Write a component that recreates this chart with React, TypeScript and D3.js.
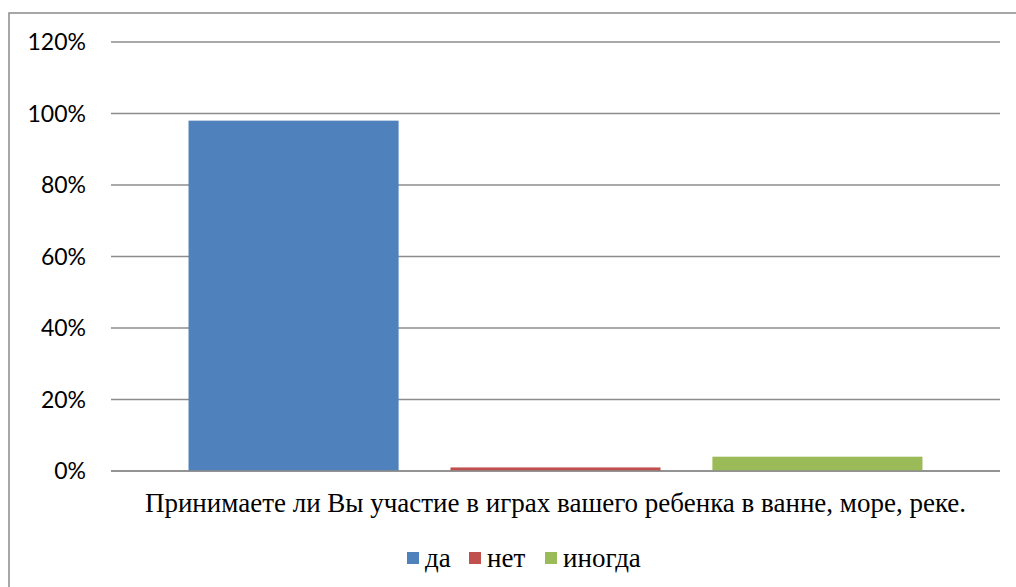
import * as d3 from "d3";

const CATEGORY = "Принимаете ли Вы участие в играх вашего ребенка в ванне, море, реке.";
const SERIES = ["да", "нет", "иногда"];
const VALUES = [0.98, 0.01, 0.04];
const COLORS = ["#4f81bd", "#c0504d", "#9bbb59"];
const TICKS = [0, 0.2, 0.4, 0.6, 0.8, 1.0, 1.2];

const W = 1016, H = 587;
const plot = { left: 111, right: 1000, top: 42, bottom: 471 };
const SERIF = "Liberation Serif, DejaVu Serif, serif";

export default function App() {
  const y = d3.scaleLinear().domain([0, 1.2]).range([plot.bottom, plot.top]);
  const x = d3.scaleBand<string>()
    .domain(SERIES)
    .range([plot.left, plot.right])
    .paddingInner(0.198)
    .paddingOuter(0.296);
  const fmt = d3.format(".0%");

  // legend positions
  const legendX = [407, 469, 545];

  return (
    <svg
      width={W}
      height={H}
      style={{ position: "absolute", left: 0, top: 0, background: "#fff" }}
    >
      <rect x={9} y={13} width={1100} height={700} fill="#fff" stroke="#8a8a8a" strokeWidth={1.5} />

      {TICKS.map((t) => (
        <g key={t}>
          <line
            x1={plot.left}
            x2={plot.right}
            y1={y(t)}
            y2={y(t)}
            stroke="#8c8c8c"
            strokeWidth={1.4}
          />
          <text
            x={86}
            y={y(t)}
            dy="0.36em"
            textAnchor="end"
            style={{ fontFamily: "Lato, 'Open Sans', sans-serif", fontSize: 23 }}
            fill="#000"
          >
            {fmt(t)}
          </text>
        </g>
      ))}

      {SERIES.map((s, i) => (
        <rect
          key={s}
          x={x(s)}
          y={y(VALUES[i])}
          width={x.bandwidth()}
          height={y(0) - y(VALUES[i])}
          fill={COLORS[i]}
        />
      ))}

      <line x1={plot.left} x2={plot.right} y1={y(0)} y2={y(0)} stroke="#8c8c8c" strokeWidth={1.6} />

      <text
        x={(plot.left + plot.right) / 2}
        y={512}
        textAnchor="middle"
        style={{ fontFamily: SERIF, fontSize: 27 }}
        fill="#000"
      >
        {CATEGORY}
      </text>

      {SERIES.map((s, i) => (
        <g key={s} transform={`translate(${legendX[i]},0)`}>
          <rect x={0} y={552} width={12} height={12} fill={COLORS[i]} />
          <text x={18} y={567} style={{ fontFamily: SERIF, fontSize: 27 }} fill="#000">
            {s}
          </text>
        </g>
      ))}
    </svg>
  );
}
